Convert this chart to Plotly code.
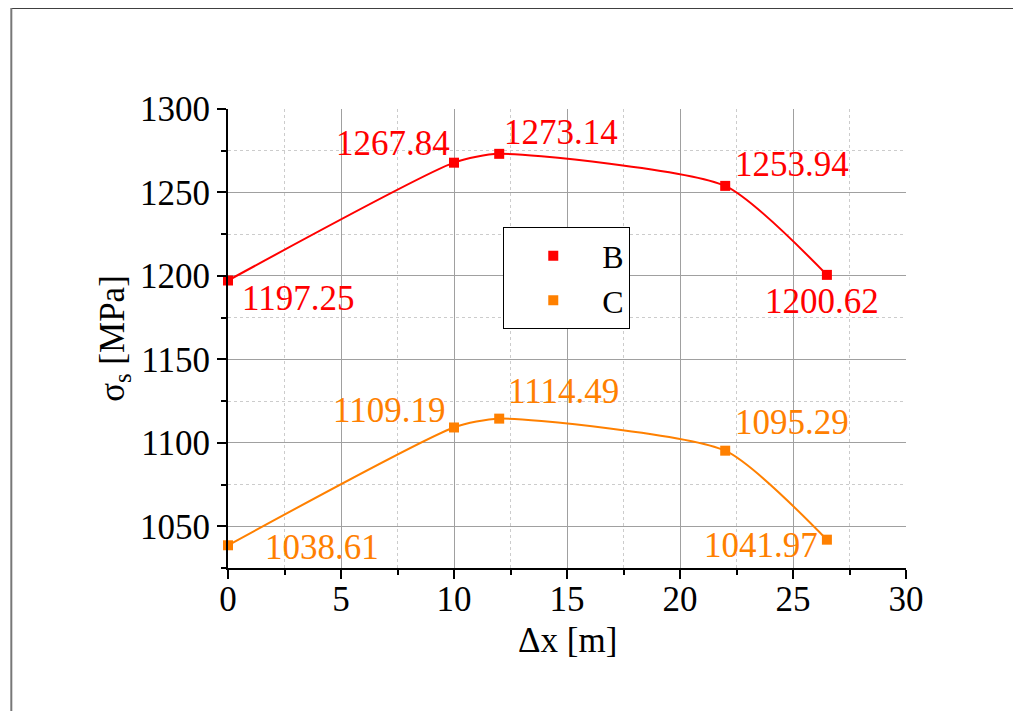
import plotly.graph_objects as go

# measurement positions and stresses
dx = [0, 10, 12, 22, 26.5]
sigma_b = [1197.25, 1267.84, 1273.14, 1253.94, 1200.62]
sigma_c = [1038.61, 1109.19, 1114.49, 1095.29, 1041.97]
names = ["B", "C"]
colors = ["#ff0000", "#ff8000"]

# label offsets (px) per point: (xanchor, xshift, yshift)
offs_b = [("left", 12, -18), ("right", -2, 19), ("left", 3, 21), ("left", 8, 21), ("center", -5, -27)]
offs_c = [("left", 35, -2), ("right", -7, 17), ("left", 7, 27), ("left", 8, 28), ("right", -7, -6)]

FONT = "Liberation Serif, Times New Roman, serif"
FS = 35

fig = go.Figure()
annos = []
for name, ys, col, offs in [(names[0], sigma_b, colors[0], offs_b), (names[1], sigma_c, colors[1], offs_c)]:
    # smooth line (no legend entry), then markers carrying the legend
    fig.add_trace(go.Scatter(
        x=dx, y=ys, mode="lines", showlegend=False, hoverinfo="skip",
        line=dict(color=col, width=2, shape="spline", smoothing=0.6),
    ))
    fig.add_trace(go.Scatter(
        x=dx, y=ys, name=name, mode="markers",
        marker=dict(symbol="square", size=10, color=col),
        cliponaxis=False,
    ))
    for xv, yv, (xa, xs, ys_) in zip(dx, ys, offs):
        annos.append(dict(x=xv, y=yv, text=f"{yv:.2f}", showarrow=False,
                          xanchor=xa, yanchor="middle", xshift=xs, yshift=ys_,
                          font=dict(family=FONT, size=FS, color=col)))

# x axis title
annos.append(dict(x=0.5, y=-0.158, xref="paper", yref="paper", text="Δx [m]",
                  showarrow=False, xanchor="center", yanchor="middle",
                  font=dict(family=FONT, size=FS, color="black")))

axis_common = dict(
    showline=True, linecolor="black", linewidth=2,
    ticks="outside", ticklen=9, tickwidth=1.5, tickcolor="black",
    showgrid=True, gridcolor="#a0a0a0", gridwidth=1,
    zeroline=False, mirror=False,
    tickfont=dict(family=FONT, size=FS, color="black"),
)

fig.update_xaxes(
    range=[0, 30], dtick=5, tick0=0,
    ticklabelstandoff=-10,
    minor=dict(dtick=2.5, ticks="outside", ticklen=5, tickcolor="black",
               showgrid=True, gridcolor="#cccccc", griddash="dot", gridwidth=1),
    **axis_common,
)
fig.update_yaxes(
    range=[1025, 1300], dtick=50, tick0=1000,
    title=dict(text="σ<sub>s</sub> [MPa]", font=dict(family=FONT, size=FS, color="black"), standoff=5),
    minor=dict(dtick=25, ticks="outside", ticklen=5, tickcolor="black",
               showgrid=True, gridcolor="#cccccc", griddash="dot", gridwidth=1),
    **axis_common,
)

# page frame (top and left edges)
shapes = [
    dict(type="line", xref="paper", yref="paper", x0=-0.3196, x1=1.3, y0=1.22, y1=1.22,
         line=dict(color="black", width=1.5)),
    dict(type="line", xref="paper", yref="paper", x0=-0.3196, x1=-0.3196, y0=1.22, y1=-0.4,
         line=dict(color="#777777", width=2)),
]

fig.update_layout(
    width=1021, height=711,
    margin=dict(l=220, r=123, t=101, b=151),
    paper_bgcolor="white", plot_bgcolor="white",
    font=dict(family=FONT, size=FS, color="black"),
    showlegend=True,
    legend=dict(x=0.406, y=0.742, xanchor="left", yanchor="top",
                bordercolor="black", borderwidth=1, bgcolor="white",
                itemwidth=88, font=dict(family=FONT, size=32, color="black"),
                tracegroupgap=0),
    annotations=annos,
    shapes=shapes,
)

fig.write_html("out.html")
